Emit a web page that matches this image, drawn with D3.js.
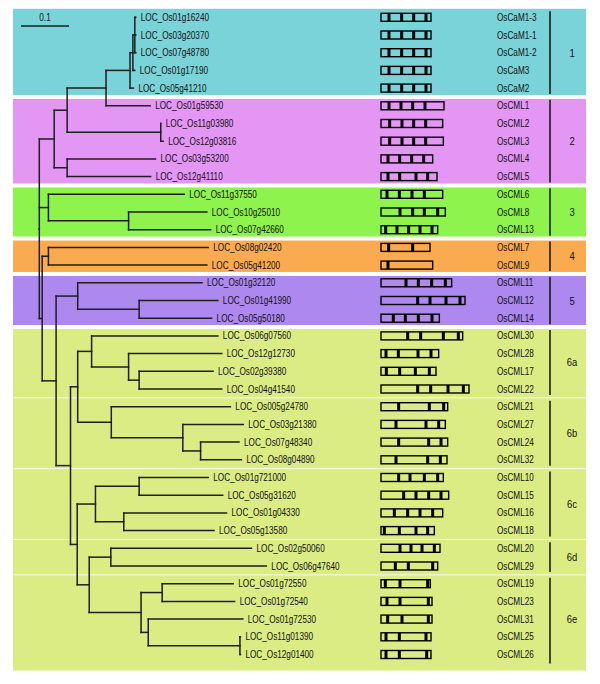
<!DOCTYPE html>
<html><head><meta charset="utf-8">
<script src="https://cdn.jsdelivr.net/npm/d3@7"></script>
<style>
body{margin:0;background:#fff}
svg{display:block}
text{font-family:"Liberation Sans Narrow","Arial Narrow","Liberation Sans",Arial,sans-serif;fill:#111}
</style>
</head><body><svg id="chart" width="600" height="684"></svg>
<script>
// ---------- DATA ----------
// Tree (Newick pieces, branch lengths in substitutions/site)
const cladeI_II = "(((((((LOC_Os01g16240:0.002,LOC_Os03g20370:0.002,LOC_Os07g48780:0.002):0.004,LOC_Os01g17190:0.004):0.006,LOC_Os05g41210:0.007):0.050,LOC_Os01g59530:0.092):0.081,(LOC_Os11g03980:0.000,LOC_Os12g03816:0.005):0.195):0.027,(LOC_Os03g53200:0.184,LOC_Os12g41110:0.174):0.027):0.031";
const cladeIII = "(LOC_Os11g37550:0.283,(LOC_Os10g25010:0.163,LOC_Os07g42660:0.171):0.167):0.019";
const cladeV = "(LOC_Os01g32120:0.259,(LOC_Os01g41990:0.164,LOC_Os05g50180:0.151):0.128)";
const clade6a = "(LOC_Os06g07560:0.263,(LOC_Os12g12730:0.194,(LOC_Os02g39380:0.154,LOC_Os04g41540:0.172):0.022):0.077)";
const clade6b = "(LOC_Os005g24780:0.248,(LOC_Os03g21380:0.126,(LOC_Os07g48340:0.080,LOC_Os08g04890:0.085):0.037):0.149)";
const clade6c = "((LOC_Os01g721000:0.144,LOC_Os05g31620:0.174):0.091,(LOC_Os01g04330:0.214,LOC_Os05g13580:0.188):0.059)";
const clade6d = "(LOC_Os02g50060:0.293,LOC_Os06g47640:0.324)";
const clade6e = "((LOC_Os01g72550:0.148,LOC_Os01g72540:0.151):0.044,(LOC_Os01g72530:0.197,(LOC_Os11g01390:0.001,LOC_Os12g01400:0.001):0.191):0.015)";
const cladeIV = "(LOC_Os08g02420:0.333,LOC_Os05g41200:0.330)";
const cladeIV_VI = "(" + cladeIV + ":0.013,(" + cladeV + ":0.045,((" + clade6a + ":0.029," + clade6b + ":0.070):0.015,(" + clade6c + ":0.038,(" + clade6d + ":0.045," + clade6e + ":0.108):0.025):0.014):0.030):0.029):0.006";
const newick = "(" + cladeI_II + "," + cladeIII + "," + cladeIV_VI + ");";

const geneNames = ["OsCaM1-3","OsCaM1-1","OsCaM1-2","OsCaM3","OsCaM2",
  "OsCML1","OsCML2","OsCML3","OsCML4","OsCML5",
  "OsCML6","OsCML8","OsCML13","OsCML7","OsCML9",
  "OsCML11","OsCML12","OsCML14",
  "OsCML30","OsCML28","OsCML17","OsCML22",
  "OsCML21","OsCML27","OsCML24","OsCML32",
  "OsCML10","OsCML15","OsCML16","OsCML18",
  "OsCML20","OsCML29",
  "OsCML19","OsCML23","OsCML31","OsCML25","OsCML26"];
// protein length (aa) and EF-hand positions (aa)
const proteinLength = [150,150,150,150,150, 189,185,187,155,168, 185,193,170,147,155,
  212,252,175, 245,173,165,264, 200,193,200,198, 187,203,185,160, 177,170, 148,153,153,150,150];
const efHands = [
  [24,62,98,135],[24,62,98,135],[24,62,98,135],[24,62,98,135],[24,62,98,135],
  [24,60,95,132],[26,63,98,134],[26,63,98,134],[21,56,92,128],[21,56,105,140],
  [18,55,93,130],[57,95,130,170],[14,48,83,117,153],[23,95],[21],
  [75,112,152,193],[110,147,195,237],[37,73,112,153],
  [80,119,187,232],[15,52,111,150],[16,56,103,145],[110,149,201,247],
  [53,145,188],[45,135,173],[53,143,180],[45,140,178],
  [53,87,130,170],[68,105,143,180],[40,80,117,155],[10,55,105,140],
  [57,90,123,160],[43,82,155],
  [13,57,140],[18,57,142],[20,63,142],[15,55,135],[15,55,137]];

const groupLabels = ["1","2","3","4","5","6a","6b","6c","6d","6e"];
const groupFirst  = [0,5,10,13,15,18,22,26,30,32];
const groupLast   = [4,9,12,14,17,21,25,29,31,36];
const bandFirst   = [0,5,10,13,15,18];
const bandLast    = [4,9,12,14,17,36];
const bandColors  = ["#7ad3d8","#e496f4","#8ef34c","#fbab4f","#ad88ef","#dcec84"];
const scaleBarValue = 0.1;

// ---------- PARSE ----------
function parseNewick(s){
  let i=0;
  function node(){
    const n={children:[]};
    if(s[i]==='('){
      i++; n.children.push(node());
      while(s[i]===','){i++; n.children.push(node());}
      i++;
    }
    let name=''; while(i<s.length && !',():;'.includes(s[i])) name+=s[i++];
    n.name=name;
    if(s[i]===':'){ i++; let num=''; while(i<s.length && !',();'.includes(s[i])) num+=s[i++]; n.length=+num; }
    else n.length=0;
    if(!n.children.length) delete n.children;
    return n;
  }
  return node();
}

const root = d3.hierarchy(parseNewick(newick));
root.each(d=>{ d.len = d.parent ? d.parent.len + d.data.length : 0; });
const leaves = root.leaves();

const svg = d3.select("#chart");
const nRows = leaves.length;
const yRow = d3.scaleLinear().domain([0, nRows-1]).range([17.3, 654.5]);
const xTree = d3.scaleLinear().domain([0, 0.1]).range([39.3, 87.3]);
const xGene = d3.scaleLinear().domain([0, 150]).range([381, 431]);
const bandX0 = 13, bandX1 = 586;
const narrow = 0.82; // condensed typeface emulation

function label(sel, x, y, str, size, anchor){
  return sel.append("text")
    .attr("transform",`translate(${x},${y}) scale(${narrow},1)`)
    .attr("dy","0.35em").attr("font-size",size)
    .attr("text-anchor",anchor||"start").text(str);
}

leaves.forEach((d,i)=>{ d.row=i; d.yy=yRow(i); });
root.eachAfter(d=>{ if(d.children){ d.yy=(d.children[0].yy + d.children[d.children.length-1].yy)/2; } });

// ---------- BANDS ----------
const mid = (a,b)=>(yRow(a)+yRow(b))/2;
const bands = svg.append("g");
bandFirst.forEach((f,k)=>{
  const l = bandLast[k];
  const y0 = f===0 ? yRow(0)-8.5 : mid(f-1,f)+2;
  const y1 = l===nRows-1 ? yRow(l)+16 : mid(l,l+1)-2;
  bands.append("rect").attr("x",bandX0).attr("y",y0).attr("width",bandX1-bandX0).attr("height",y1-y0).attr("fill",bandColors[k]);
});
groupFirst.forEach((f,k)=>{
  if(f>18){
    const yy = mid(f-1,f);
    bands.append("line").attr("x1",bandX0).attr("x2",bandX1).attr("y1",yy).attr("y2",yy)
      .attr("stroke","#ffffff").attr("stroke-opacity",0.85).attr("stroke-width",1);
  }
});

// ---------- TREE ----------
const tree = svg.append("g").attr("fill","none").attr("stroke","#1e1e1e").attr("stroke-width",1.5).attr("stroke-linecap","square");
root.descendants().forEach(d=>{
  if(d.parent){
    tree.append("line").attr("x1",xTree(d.parent.len)).attr("x2",xTree(d.len)).attr("y1",d.yy).attr("y2",d.yy);
  }
  if(d.children){
    tree.append("line").attr("x1",xTree(d.len)).attr("x2",xTree(d.len))
      .attr("y1",d.children[0].yy).attr("y2",d.children[d.children.length-1].yy);
  }
});
const leafLabels = svg.append("g");
leaves.forEach(d=>label(leafLabels, xTree(d.len)+5, d.yy, d.data.name, 10));

// scale bar
const sbLen = xTree(scaleBarValue)-xTree(0);
svg.append("line").attr("x1",21).attr("x2",21+sbLen).attr("y1",26).attr("y2",26).attr("stroke","#1e1e1e").attr("stroke-width",1.5);
label(svg, 21+sbLen/2, 17, String(scaleBarValue), 10, "middle");

// ---------- GENE STRUCTURES ----------
const gs = svg.append("g");
geneNames.forEach((name,i)=>{
  const y = yRow(i);
  const g = gs.append("g");
  efHands[i].forEach(p=>{
    g.append("rect").attr("x",xGene(p-4.5)).attr("y",y-4).attr("width",xGene(9)-xGene(0)).attr("height",8).attr("fill","#000");
  });
  g.append("rect").attr("x",xGene(0)).attr("y",y-4).attr("width",xGene(proteinLength[i])-xGene(0)).attr("height",8)
    .attr("fill","none").attr("stroke","#000").attr("stroke-width",1.4);
  label(gs, 497, y, name, 10);
});

// ---------- GROUP BRACKETS ----------
groupLabels.forEach((lab,k)=>{
  const y0 = yRow(groupFirst[k])-6, y1 = yRow(groupLast[k]) + (k===groupLabels.length-1 ? 9 : 6);
  svg.append("line").attr("x1",550).attr("x2",550).attr("y1",y0).attr("y2",y1).attr("stroke","#111").attr("stroke-width",1.5);
  label(svg, 572, (yRow(groupFirst[k])+yRow(groupLast[k]))/2, lab, 11.5, "middle");
});
</script></body></html>
